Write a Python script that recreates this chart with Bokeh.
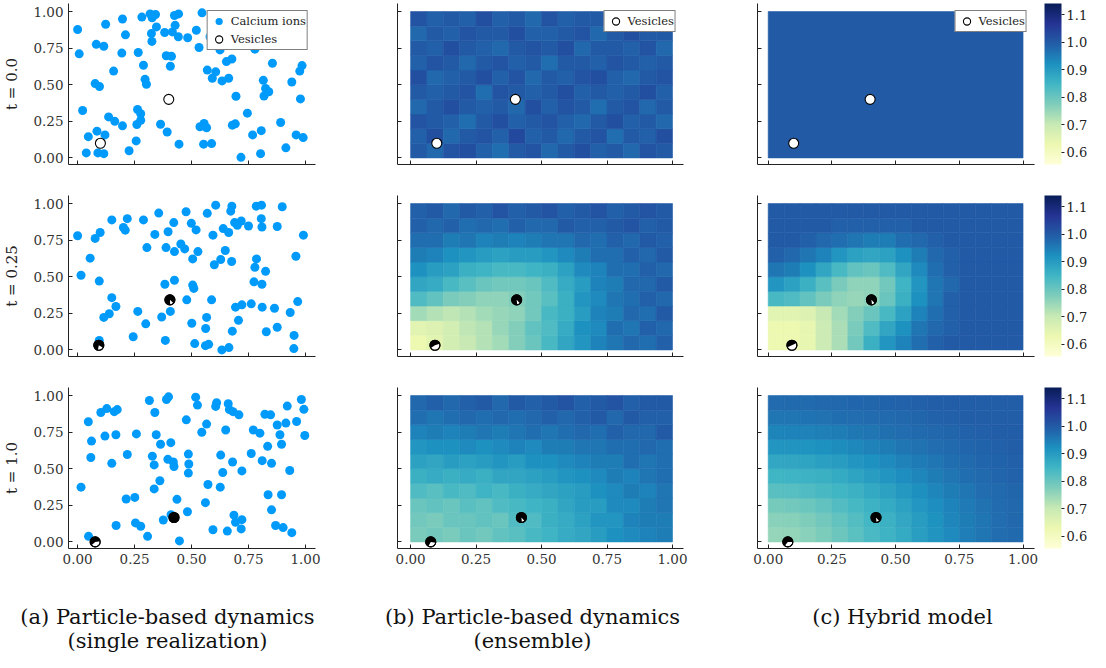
import numpy as np
from bokeh.plotting import figure
from bokeh.layouts import column, row
from bokeh.models import (Range1d, FixedTicker, PrintfTickFormatter, CustomJSTickFormatter,
                          LinearColorMapper, ColorBar, Legend, LegendItem, ColumnDataSource)
from bokeh.palettes import YlGnBu9
from bokeh.core.properties import value
from bokeh.embed import file_html
from bokeh.resources import INLINE

FONT = "DejaVu Serif"
ION_COLOR = "#009AFA"

TIME_LABELS = ["t = 0.0", "t = 0.25", "t = 1.0"]
AXIS_TICKS = [0.0, 0.25, 0.5, 0.75, 1.0]
CBAR_TICKS = [0.6, 0.7, 0.8, 0.9, 1.0, 1.1]
CBAR_LOW, CBAR_HIGH = 0.555, 1.14
CAPTIONS_1 = ["(a) Particle-based dynamics", "(b) Particle-based dynamics", "(c) Hybrid model"]
CAPTIONS_2 = ["(single realization)", "(ensemble)"]

# ---- calcium ions (single realization) ----
ION_T0_X = [0.000,0.007,0.022,0.038,0.047,0.077,0.082,0.085,0.096,0.115,
            0.120,0.123,0.089,0.115,0.136,0.163,0.158,0.197,0.210,0.194,
            0.197,0.226,0.257,0.260,0.263,0.266,0.277,0.282,0.289,0.296,
            0.302,0.277,0.318,0.327,0.342,0.324,0.326,0.346,0.364,0.382,
            0.389,0.393,0.407,0.412,0.416,0.425,0.428,0.443,0.442,0.445,
            0.483,0.521,0.533,0.546,0.537,0.555,0.566,0.553,0.588,0.569,
            0.581,0.606,0.591,0.625,0.634,0.653,0.663,0.677,0.695,0.679,
            0.692,0.717,0.745,0.768,0.778,0.806,0.803,0.815,0.818,0.825,
            0.839,0.855,0.891,0.914,0.940,0.959,0.975,0.985,0.978,0.990]
ION_T0_Y = [0.877,0.711,0.324,0.034,0.145,0.508,0.776,0.183,0.488,0.763,
            0.157,0.913,0.034,0.029,0.280,0.250,0.593,0.949,0.841,0.716,
            0.219,0.049,0.116,0.228,0.331,0.720,0.257,0.962,0.633,0.537,
            0.503,0.302,0.984,0.957,0.980,0.850,0.796,0.895,0.230,0.857,
            0.698,0.177,0.626,0.694,0.861,0.973,0.906,0.984,0.828,0.094,
            0.821,0.872,0.754,0.991,0.213,0.235,0.206,0.094,0.098,0.600,
            0.828,0.588,0.544,0.738,0.526,0.658,0.544,0.676,0.421,0.224,
            0.233,0.004,0.306,0.157,0.743,0.186,0.029,0.530,0.423,0.474,
            0.452,0.647,0.242,0.069,0.519,0.157,0.593,0.631,0.403,0.139]

ION_T025_X = [0.000,0.015,0.055,0.077,0.099,0.095,0.150,0.218,0.201,0.209,
              0.289,0.356,0.304,0.339,0.397,0.422,0.388,0.425,0.453,0.470,
              0.476,0.499,0.505,0.520,0.528,0.569,0.606,0.594,0.639,0.648,
              0.628,0.663,0.600,0.676,0.677,0.672,0.689,0.701,0.718,0.750,
              0.784,0.807,0.806,0.809,0.785,0.778,0.825,0.774,0.809,0.898,
              0.876,0.991,0.958,0.966,0.933,0.864,0.876,0.828,0.810,0.762,
              0.721,0.693,0.706,0.679,0.664,0.633,0.588,0.566,0.562,0.575,
              0.561,0.514,0.501,0.479,0.505,0.510,0.425,0.383,0.369,0.407,
              0.385,0.299,0.264,0.244,0.168,0.150,0.139,0.115,0.095,0.950,0.949]
ION_T025_Y = [0.780,0.510,0.627,0.762,0.802,0.470,0.888,0.897,0.836,0.818,
              0.888,0.935,0.699,0.789,0.807,0.870,0.699,0.672,0.724,0.690,
              0.944,0.865,0.622,0.820,0.672,0.933,0.989,0.784,0.829,0.679,
              0.618,0.802,0.582,0.604,0.982,0.948,0.870,0.852,0.881,0.847,
              0.982,0.989,0.897,0.840,0.622,0.564,0.537,0.465,0.449,0.978,
              0.843,0.784,0.640,0.330,0.256,0.285,0.155,0.124,0.292,0.315,
              0.308,0.292,0.202,0.128,0.016,0.000,0.342,0.222,0.146,0.038,
              0.029,0.043,0.182,0.342,0.443,0.420,0.476,0.449,0.225,0.263,
              0.065,0.178,0.263,0.090,0.297,0.357,0.247,0.222,0.065,0.099,0.009]

ION_T1_X = [0.015,0.047,0.061,0.058,0.048,0.102,0.128,0.161,0.174,0.120,
            0.168,0.150,0.169,0.218,0.213,0.251,0.258,0.254,0.277,0.307,
            0.315,0.339,0.345,0.328,0.336,0.364,0.361,0.336,0.376,0.390,
            0.399,0.409,0.396,0.420,0.423,0.436,0.410,0.447,0.477,0.486,
            0.488,0.486,0.482,0.518,0.526,0.566,0.545,0.572,0.561,0.594,
            0.610,0.606,0.650,0.628,0.637,0.626,0.661,0.666,0.682,0.708,
            0.680,0.721,0.657,0.686,0.693,0.721,0.718,0.762,0.771,0.800,
            0.810,0.822,0.847,0.834,0.851,0.836,0.851,0.869,0.876,0.888,
            0.895,0.895,0.902,0.914,0.920,0.931,0.940,0.961,0.982,0.993,0.997]
ION_T1_Y = [0.374,0.821,0.689,0.577,0.038,0.884,0.911,0.890,0.904,0.723,
            0.732,0.537,0.112,0.597,0.293,0.304,0.738,0.130,0.107,0.038,
            0.966,0.884,0.732,0.586,0.526,0.667,0.418,0.362,0.150,0.973,
            0.991,0.678,0.564,0.546,0.515,0.291,0.186,0.007,0.834,0.600,
            0.532,0.470,0.206,0.989,0.935,0.805,0.749,0.392,0.268,0.083,
            0.951,0.926,0.765,0.593,0.474,0.374,0.944,0.904,0.890,0.868,
            0.546,0.485,0.074,0.183,0.134,0.152,0.089,0.604,0.765,0.743,
            0.555,0.872,0.868,0.653,0.537,0.322,0.219,0.112,0.799,0.732,
            0.667,0.322,0.098,0.812,0.928,0.488,0.063,0.823,0.973,0.906,0.727]

# ---- vesicles: positions and empty (white) fraction per column (a, b, c) ----
VES_T0_X = [0.10, 0.40]
VES_T0_Y = [0.10, 0.40]
VES_T025_X = [0.093, 0.405]
VES_T025_Y = [0.032, 0.342]
VES_T1_X = [0.077, 0.423]
VES_T1_Y = [0.000, 0.167]
VES_T025_EMPTY = [[0.20, 0.12], [0.45, 0.10], [0.50, 0.10]]
VES_T1_EMPTY = [[0.40, 0.00], [0.30, 0.10], [0.35, 0.10]]

# ---- concentration fields (rows bottom -> top), 16 x 10 cells on [0,1]^2 ----
ENS_T0 = [
    [1.00,0.98,1.01,1.02,0.99,0.97,1.00,1.01,0.98,1.00,1.02,0.99,1.00,0.98,1.01,1.00],
    [0.99,1.02,0.98,1.00,1.01,0.99,1.03,0.99,1.00,0.98,1.00,1.01,0.97,1.00,0.99,1.02],
    [1.01,1.00,0.99,0.97,1.00,1.02,0.99,1.00,1.01,0.99,0.98,1.00,1.02,0.99,1.00,0.98],
    [0.98,1.00,1.02,1.00,0.99,1.00,0.98,1.02,0.99,1.01,1.00,0.97,1.00,1.01,0.98,1.00],
    [1.00,0.99,1.00,1.01,0.97,1.01,1.00,0.99,1.00,1.02,0.99,1.00,0.99,1.00,1.02,0.99],
    [1.02,0.98,0.99,1.00,1.02,0.99,1.01,0.98,1.00,0.99,1.01,1.02,0.99,0.98,1.00,1.01],
    [0.99,1.01,1.00,0.98,1.00,1.01,0.99,1.00,0.97,1.00,1.00,0.99,1.01,1.00,0.99,1.00],
    [1.00,0.99,1.02,1.00,0.99,0.98,1.00,1.01,1.00,1.02,0.98,1.00,1.00,0.99,1.01,0.98],
    [0.98,1.00,0.99,1.01,1.00,1.00,1.02,0.99,0.99,1.00,1.01,0.98,1.00,1.02,1.00,1.00],
    [1.01,0.99,1.00,0.99,1.02,0.99,1.00,0.98,1.01,0.99,1.00,1.00,0.98,1.00,0.99,1.01]]
ENS_T025 = [
    [0.63,0.65,0.68,0.70,0.72,0.74,0.77,0.80,0.84,0.88,0.91,0.94,0.96,0.98,0.97,0.99],
    [0.65,0.66,0.68,0.71,0.72,0.75,0.77,0.81,0.83,0.87,0.92,0.93,0.97,0.96,0.99,0.98],
    [0.74,0.72,0.71,0.72,0.74,0.75,0.76,0.79,0.84,0.86,0.90,0.94,0.95,0.98,0.97,1.00],
    [0.83,0.81,0.78,0.77,0.76,0.76,0.77,0.79,0.82,0.86,0.91,0.93,0.96,0.97,0.99,0.98],
    [0.88,0.87,0.84,0.82,0.80,0.79,0.79,0.80,0.83,0.87,0.90,0.94,0.95,0.98,0.98,1.00],
    [0.92,0.90,0.89,0.86,0.85,0.84,0.84,0.85,0.86,0.89,0.93,0.94,0.97,0.97,0.99,0.98],
    [0.95,0.94,0.92,0.91,0.90,0.89,0.90,0.90,0.91,0.93,0.95,0.97,0.97,0.99,0.98,1.00],
    [0.97,0.97,0.95,0.96,0.94,0.95,0.94,0.95,0.96,0.96,0.98,0.97,0.99,0.98,1.00,0.99],
    [0.99,0.98,0.99,0.97,0.98,0.97,0.99,0.98,0.98,1.00,0.99,0.99,1.00,1.01,0.99,1.00],
    [0.99,1.00,0.98,1.00,0.99,1.01,0.99,1.00,1.01,0.99,1.00,1.01,0.99,1.00,1.01,1.00]]
ENS_T1 = [
    [0.78,0.79,0.78,0.80,0.79,0.81,0.82,0.84,0.85,0.87,0.88,0.90,0.92,0.93,0.94,0.95],
    [0.79,0.78,0.80,0.80,0.81,0.80,0.83,0.83,0.86,0.87,0.89,0.91,0.91,0.94,0.95,0.95],
    [0.80,0.81,0.80,0.82,0.81,0.83,0.84,0.85,0.86,0.88,0.90,0.90,0.93,0.93,0.95,0.96],
    [0.83,0.82,0.84,0.83,0.85,0.84,0.86,0.87,0.88,0.89,0.90,0.92,0.93,0.95,0.94,0.96],
    [0.86,0.87,0.86,0.87,0.86,0.88,0.88,0.89,0.90,0.91,0.92,0.93,0.95,0.94,0.96,0.97],
    [0.89,0.88,0.90,0.89,0.90,0.91,0.90,0.92,0.92,0.93,0.94,0.95,0.95,0.97,0.96,0.97],
    [0.91,0.92,0.92,0.93,0.92,0.93,0.94,0.93,0.95,0.95,0.96,0.96,0.97,0.97,0.98,0.97],
    [0.94,0.95,0.94,0.95,0.96,0.95,0.96,0.97,0.96,0.97,0.98,0.97,0.99,0.98,0.98,1.00],
    [0.97,0.96,0.97,0.98,0.97,0.98,0.97,0.98,0.99,0.98,0.99,1.00,0.98,1.00,0.99,0.99],
    [0.98,0.99,0.98,0.99,1.00,0.98,1.00,0.99,1.00,1.01,0.99,1.00,1.01,0.99,1.00,1.00]]
HYB_T0 = [[1.0]]
HYB_T025 = [
    [0.63,0.63,0.64,0.69,0.73,0.79,0.86,0.91,0.94,0.97,0.99,1.00,1.00,1.00,1.00,1.00],
    [0.63,0.63,0.64,0.69,0.73,0.78,0.83,0.88,0.92,0.96,0.98,0.99,1.00,1.00,1.00,1.00],
    [0.65,0.65,0.66,0.70,0.74,0.77,0.80,0.84,0.89,0.94,0.97,0.99,1.00,1.00,1.00,1.00],
    [0.84,0.83,0.81,0.78,0.76,0.75,0.76,0.80,0.86,0.92,0.96,0.99,1.00,1.00,1.00,1.00],
    [0.91,0.89,0.86,0.82,0.78,0.76,0.76,0.79,0.85,0.91,0.96,0.98,1.00,1.00,1.00,1.00],
    [0.96,0.95,0.92,0.88,0.84,0.81,0.80,0.83,0.88,0.93,0.97,0.99,1.00,1.00,1.00,1.00],
    [0.99,0.98,0.96,0.94,0.91,0.89,0.88,0.89,0.92,0.95,0.98,0.99,1.00,1.00,1.00,1.00],
    [1.00,1.00,0.99,0.98,0.97,0.96,0.95,0.95,0.97,0.98,0.99,1.00,1.00,1.00,1.00,1.00],
    [1.00,1.00,1.00,1.00,0.99,0.99,0.99,0.99,0.99,1.00,1.00,1.00,1.00,1.00,1.00,1.00],
    [1.00,1.00,1.00,1.00,1.00,1.00,1.00,1.00,1.00,1.00,1.00,1.00,1.00,1.00,1.00,1.00]]
HYB_T1 = [
    [0.752,0.756,0.765,0.778,0.795,0.817,0.838,0.853,0.872,0.894,0.912,0.930,0.946,0.959,0.971,0.977],
    [0.763,0.767,0.775,0.790,0.807,0.826,0.843,0.858,0.878,0.899,0.917,0.935,0.949,0.961,0.972,0.978],
    [0.785,0.790,0.799,0.810,0.827,0.842,0.855,0.871,0.890,0.908,0.925,0.941,0.954,0.966,0.974,0.980],
    [0.818,0.822,0.830,0.839,0.848,0.858,0.873,0.890,0.905,0.921,0.936,0.950,0.961,0.972,0.977,0.983],
    [0.848,0.850,0.855,0.860,0.871,0.883,0.897,0.910,0.924,0.936,0.949,0.960,0.970,0.976,0.981,0.987],
    [0.878,0.880,0.885,0.892,0.900,0.910,0.920,0.931,0.942,0.952,0.961,0.970,0.976,0.981,0.986,0.990],
    [0.910,0.912,0.915,0.920,0.927,0.934,0.942,0.950,0.958,0.966,0.972,0.977,0.982,0.986,0.990,0.993],
    [0.938,0.939,0.942,0.945,0.950,0.956,0.961,0.967,0.972,0.976,0.980,0.984,0.988,0.991,0.994,0.995],
    [0.960,0.961,0.963,0.966,0.969,0.972,0.975,0.977,0.980,0.984,0.988,0.990,0.993,0.995,0.995,0.995],
    [0.975,0.976,0.977,0.978,0.979,0.981,0.983,0.986,0.989,0.990,0.993,0.995,0.995,0.995,0.995,0.995]]

# ---------------- styling / layout ----------------
def make_palette(n=256):
    base = list(reversed(YlGnBu9))  # light -> dark
    rgb = np.array([[int(c[i:i + 2], 16) for i in (1, 3, 5)] for c in base], float)
    pos = np.linspace(0, 1, len(base))
    out = []
    for ti in np.linspace(0, 1, n):
        r, g, b = (int(round(np.interp(ti, pos, rgb[:, k]))) for k in range(3))
        out.append("#%02x%02x%02x" % (r, g, b))
    return out

PALETTE = make_palette()

COL_W = [340, 360, 390]
COL_BL = [68, 57, 57]
COL_BR = [25, 17, 54]
XR = [(-0.04, 1.044), (-0.05, 1.042), (-0.042, 1.045)]
YR = (-0.045, 1.055)
FRAME_H = 161
ROW_TOP = [3, 0, 0]
ROW_BOTTOM = [31, 31, 22]


def base_fig(ci, ri):
    last = ri == 2
    top, bottom = ROW_TOP[ri], ROW_BOTTOM[ri]
    p = figure(width=COL_W[ci], height=top + FRAME_H + bottom,
               x_range=Range1d(*XR[ci]), y_range=Range1d(*YR),
               output_backend="svg", toolbar_location=None,
               min_border_left=COL_BL[ci], min_border_right=COL_BR[ci],
               min_border_top=top, min_border_bottom=bottom)
    p.grid.visible = False
    p.outline_line_color = None
    for ax in (p.xaxis[0], p.yaxis[0]):
        ax.ticker = FixedTicker(ticks=AXIS_TICKS)
        ax.formatter = PrintfTickFormatter(format="%.2f")
        ax.axis_line_color = "#222222"
        ax.major_tick_line_color = "#222222"
        ax.major_tick_in = 4
        ax.major_tick_out = 0
        ax.minor_tick_line_color = None
        ax.major_label_text_font = FONT
        ax.major_label_text_font_size = "13.5px"
        ax.major_label_text_color = "#333333"
        ax.major_label_standoff = 5
    if not last:
        p.xaxis[0].formatter = CustomJSTickFormatter(code="return ''")
    if ci > 0:
        p.yaxis[0].formatter = CustomJSTickFormatter(code="return ''")
    else:
        p.yaxis[0].axis_label = TIME_LABELS[ri]
        p.yaxis[0].axis_label_text_font = FONT
        p.yaxis[0].axis_label_text_font_style = "normal"
        p.yaxis[0].axis_label_text_font_size = "15px"
        p.yaxis[0].axis_label_text_color = "#222222"
        p.yaxis[0].axis_label_standoff = 9
    return p


def draw_field(p, grid):
    g = np.array(grid, float)
    nr, nc = g.shape
    xs, ys = np.meshgrid((np.arange(nc) + 0.5) / nc, (np.arange(nr) + 0.5) / nr)
    mapper = LinearColorMapper(palette=PALETTE, low=CBAR_LOW, high=CBAR_HIGH)
    src = ColumnDataSource(dict(x=xs.ravel(), y=ys.ravel(), v=g.ravel()))
    p.rect(x="x", y="y", width=1.0 / nc, height=1.0 / nr, source=src,
           fill_color={"field": "v", "transform": mapper},
           line_color={"field": "v", "transform": mapper}, line_width=0.6)


def draw_vesicles(p, xs, ys, empty=None, size=10):
    r = p.scatter(xs, ys, size=size, fill_color="white", line_color="black", line_width=1.1)
    if empty is not None:
        c = np.deg2rad(-65.0)
        starts = [c + np.pi * e for e in empty]
        ends = [c - np.pi * e + 2 * np.pi - 1e-3 for e in empty]
        p.wedge(x=xs, y=ys, radius=size / 2.0, radius_units="screen",
                start_angle=starts, end_angle=ends, fill_color="black", line_color=None)
        p.scatter(xs, ys, size=size, fill_color=None, line_color="black", line_width=1.1)
    return r


def style_legend(leg):
    leg.location = "top_right"
    leg.margin = 7
    leg.padding = 1
    leg.spacing = 0
    leg.glyph_width = 20
    leg.glyph_height = 18
    leg.label_height = 17
    leg.label_standoff = 2
    leg.label_text_font = FONT
    leg.label_text_font_size = "11.5px"
    leg.label_text_color = "#222222"
    leg.border_line_color = "black"
    leg.border_line_width = 1
    leg.background_fill_alpha = 1.0


def add_colorbar(p):
    mapper = LinearColorMapper(palette=PALETTE, low=CBAR_LOW, high=CBAR_HIGH)
    cb = ColorBar(color_mapper=mapper, ticker=FixedTicker(ticks=CBAR_TICKS),
                  formatter=PrintfTickFormatter(format="%.1f"),
                  width=17, height=FRAME_H, location=(10, 0), padding=0, margin=0,
                  major_label_text_font=FONT, major_label_text_font_size="13px",
                  major_label_text_color="#222222",
                  major_tick_in=0, major_tick_out=3, major_tick_line_color="#222222",
                  minor_tick_line_color=None, bar_line_color=None,
                  border_line_color=None, label_standoff=2, background_fill_alpha=0)
    p.add_layout(cb, "right")


ION_X = [ION_T0_X, ION_T025_X, ION_T1_X]
ION_Y = [ION_T0_Y, ION_T025_Y, ION_T1_Y]
VES_X = [VES_T0_X, VES_T025_X, VES_T1_X]
VES_Y = [VES_T0_Y, VES_T025_Y, VES_T1_Y]
VES_EMPTY = [None, VES_T025_EMPTY, VES_T1_EMPTY]
ENS = [ENS_T0, ENS_T025, ENS_T1]
HYB = [HYB_T0, HYB_T025, HYB_T1]

rows = []
for ri in range(3):
    figs = []
    for ci in range(3):
        p = base_fig(ci, ri)
        r_ion = None
        if ci == 0:
            r_ion = p.scatter(ION_X[ri], ION_Y[ri], size=9, fill_color=ION_COLOR, line_color=None)
        else:
            draw_field(p, ENS[ri] if ci == 1 else HYB[ri])
        emp = None if VES_EMPTY[ri] is None else VES_EMPTY[ri][ci]
        r_ves = draw_vesicles(p, VES_X[ri], VES_Y[ri], emp)
        if ri == 0:
            items = []
            if ci == 0:
                items.append(LegendItem(label="Calcium ions", renderers=[r_ion]))
            items.append(LegendItem(label="Vesicles", renderers=[r_ves]))
            leg = Legend(items=items)
            style_legend(leg)
            p.add_layout(leg)
        if ci == 2:
            add_colorbar(p)
        figs.append(p)
    rows.append(row(*figs))

CAP_H = 652 - sum(ROW_TOP[i] + FRAME_H + ROW_BOTTOM[i] for i in range(3))
cap = figure(width=1090, height=CAP_H, x_range=Range1d(0, 1090), y_range=Range1d(CAP_H, 0),
             output_backend="svg", toolbar_location=None, x_axis_type=None, y_axis_type=None,
             min_border=0)
cap.grid.visible = False
cap.outline_line_color = None
CAP_X = [167, 532, 902]
cap.text(x=CAP_X, y=[CAP_H - 36] * 3, text=CAPTIONS_1, text_font=value(FONT),
         text_font_size="21px", text_align="center", text_baseline="alphabetic", text_color="#111111")
cap.text(x=CAP_X[:2], y=[CAP_H - 12] * 2, text=CAPTIONS_2, text_font=value(FONT),
         text_font_size="21px", text_align="center", text_baseline="alphabetic", text_color="#111111")

layout = column(*rows, cap)
open("out.html", "w").write(file_html(layout, INLINE))
